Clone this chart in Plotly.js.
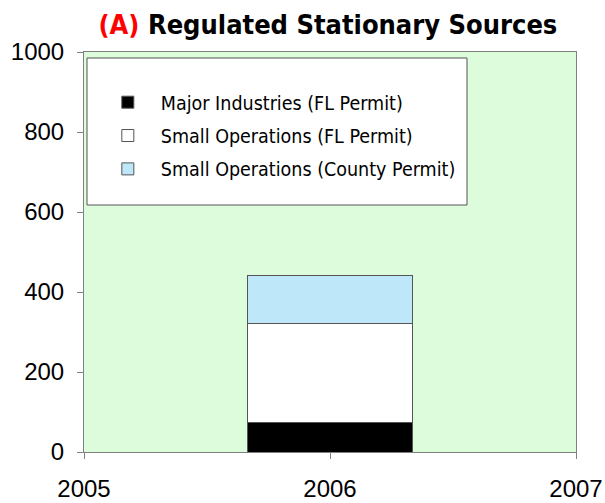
<!DOCTYPE html>
<html><head><meta charset="utf-8">
<script src="https://cdn.plot.ly/plotly-3.0.1.min.js"></script>
<style>html,body{margin:0;padding:0;background:#fff}#chart{width:605px;height:503px}</style>
</head><body><div id="chart"></div>
<script>
const years = [2006];
const majorFL = [74];
const smallFL = [248];
const smallCounty = [120];
const seriesNames = ['Major Industries (FL Permit)', 'Small Operations (FL Permit)', 'Small Operations (County Permit)'];
const xTicks = [2005, 2006, 2007];
const yTicks = [0, 200, 400, 600, 800, 1000];

const barLine = {color: '#555555', width: 1};
const traces = [
  {type: 'bar', x: years, y: majorFL, name: seriesNames[0], legendgroup: 'a', width: 0.67, marker: {color: '#000000', line: barLine}},
  {type: 'bar', x: years, y: smallFL, name: seriesNames[1], legendgroup: 'b', width: 0.67, marker: {color: '#ffffff', line: barLine}},
  {type: 'bar', x: years, y: smallCounty, name: seriesNames[2], legendgroup: 'c', width: 0.67, marker: {color: '#bfe7fa', line: barLine}}
];
const tickFont = {family: 'Liberation Sans, Arial, sans-serif', size: 24, color: '#000'};
const layout = {
  width: 605, height: 503,
  margin: {l: 84, r: 29, t: 52, b: 51},
  paper_bgcolor: '#ffffff',
  plot_bgcolor: '#dcfcdc',
  barmode: 'stack',
  showlegend: true,
  title: {
    text: '<b><span style="color:#ff0000">(A)</span> Regulated Stationary Sources</b>',
    font: {family: 'DejaVu Sans Condensed, DejaVu Sans, sans-serif', size: 27, color: '#000'},
    x: 0.542, xanchor: 'center', xref: 'container', y: 0.952, yanchor: 'middle', yref: 'container'
  },
  xaxis: {
    range: [2005, 2007], tickmode: 'array', tickvals: xTicks, ticktext: xTicks.map(String),
    tickfont: tickFont, ticks: 'outside', ticklen: 6, tickcolor: '#808080', ticklabelstandoff: 9,
    showline: true, linecolor: '#808080', linewidth: 1, mirror: true,
    showgrid: false, zeroline: false, fixedrange: true
  },
  yaxis: {
    range: [0, 1000], tickmode: 'array', tickvals: yTicks, ticktext: yTicks.map(String),
    tickfont: tickFont, ticks: 'outside', ticklen: 6, tickcolor: '#808080', ticklabelstandoff: 8,
    showline: true, linecolor: '#808080', linewidth: 1, mirror: true,
    showgrid: false, zeroline: false, fixedrange: true
  },
  shapes: [{
    type: 'rect', xref: 'paper', yref: 'paper',
    x0: (87 - 84) / 492, x1: (467 - 84) / 492, y0: (452 - 205) / 400, y1: (452 - 58) / 400,
    fillcolor: '#ffffff', line: {color: '#555555', width: 1}, layer: 'above'
  }],
  legend: {
    x: 0.022, y: 0.9225, xanchor: 'left', yanchor: 'top',
    bgcolor: 'rgba(0,0,0,0)', borderwidth: 0,
    traceorder: 'grouped', tracegroupgap: 5,
    font: {family: 'DejaVu Sans Condensed, DejaVu Sans, sans-serif', size: 19.5, color: '#000'},
    itemwidth: 56
  }
};
Plotly.newPlot('chart', traces, layout, {displayModeBar: false, staticPlot: true});
</script></body></html>
